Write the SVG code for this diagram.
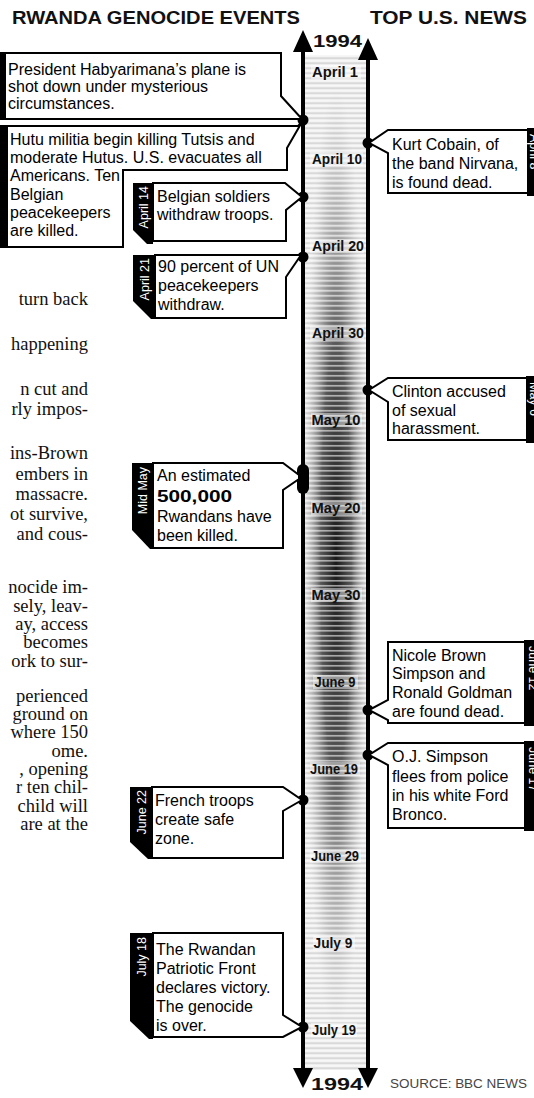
<svg xmlns="http://www.w3.org/2000/svg" width="534" height="1098" viewBox="0 0 534 1098">
<style>
.box{fill:#fff;stroke:#000;stroke-width:2;stroke-linejoin:miter}
.tab{fill:#000}
.t{font-family:"Liberation Sans",Arial,sans-serif;font-size:16px;fill:#000}
.tt{font-family:"Liberation Sans",Arial,sans-serif;font-size:12.5px;fill:#fff}
.date{font-family:"Liberation Sans",Arial,sans-serif;font-size:14px;font-weight:bold;fill:#111;text-anchor:middle}
.news{font-family:"Liberation Serif","Times New Roman",serif;font-size:18.5px;fill:#111;text-anchor:end}
.hd{font-family:"Liberation Sans",Arial,sans-serif;font-size:18px;font-weight:bold;fill:#111}
.yr{font-family:"Liberation Sans",Arial,sans-serif;font-size:17px;font-weight:bold;fill:#111}
.line{stroke:#000;stroke-width:4}
.dot{fill:#000}
</style>
<defs>
<radialGradient id="dark" gradientUnits="userSpaceOnUse" cx="336" cy="560" r="34" gradientTransform="translate(336 560) scale(1 14) translate(-336 -560)">
<stop offset="0" stop-color="#1a1a1a" stop-opacity="1"/>
<stop offset="0.45" stop-color="#444" stop-opacity="0.85"/>
<stop offset="0.8" stop-color="#999" stop-opacity="0.35"/>
<stop offset="1" stop-color="#ccc" stop-opacity="0"/>
</radialGradient>
<pattern id="stripes" patternUnits="userSpaceOnUse" width="10" height="5">
<rect x="0" y="0" width="10" height="1.6" fill="#fff" fill-opacity="0.55"/>
<rect x="0" y="2.6" width="10" height="1" fill="#000" fill-opacity="0.14"/>
</pattern>
</defs>
<rect x="0" y="0" width="534" height="1098" fill="#fff"/>

<g id="header">
<text class="hd" x="12" y="24" textLength="288" lengthAdjust="spacingAndGlyphs">RWANDA GENOCIDE EVENTS</text>
<text class="hd" x="370" y="24" textLength="157" lengthAdjust="spacingAndGlyphs">TOP U.S. NEWS</text>
</g>

<g id="column-text" class="news">
<text x="88" y="305">turn back</text>
<text x="88" y="350">happening</text>
<text x="88" y="395">n cut and</text>
<text x="88" y="415">rly impos-</text>
<text x="88" y="459">ins-Brown</text>
<text x="88" y="480">embers in</text>
<text x="88" y="500">massacre.</text>
<text x="88" y="520">ot survive,</text>
<text x="88" y="540">and cous-</text>
<text x="88" y="593">nocide im-</text>
<text x="88" y="612">sely, leav-</text>
<text x="88" y="630">ay, access</text>
<text x="88" y="648">becomes</text>
<text x="88" y="667">ork to sur-</text>
<text x="88" y="702">perienced</text>
<text x="88" y="720">ground on</text>
<text x="88" y="738">where 150</text>
<text x="88" y="757">ome.</text>
<text x="88" y="775">, opening</text>
<text x="88" y="793">r ten chil-</text>
<text x="88" y="812">child will</text>
<text x="88" y="830">are at the</text>
</g>

<g id="timeline-band">
<rect x="305" y="55" width="61" height="1015" fill="#eeeeee"/>
<rect x="305" y="55" width="61" height="1015" fill="url(#dark)"/>
<rect x="305" y="55" width="61" height="1015" fill="url(#stripes)"/>
<g fill="#fff" fill-opacity="0.45">
<rect x="311" y="65" width="50" height="14"/>
<rect x="310" y="152" width="53" height="14"/>
<rect x="310" y="239" width="54" height="14"/>
<rect x="310" y="326" width="54" height="14"/>
<rect x="311" y="413" width="51" height="14"/>
<rect x="311" y="501" width="51" height="14"/>
<rect x="311" y="588" width="51" height="14"/>
<rect x="313" y="675" width="45" height="14"/>
<rect x="310" y="762" width="50" height="14"/>
<rect x="310" y="849" width="51" height="14"/>
<rect x="313" y="936" width="42" height="14"/>
<rect x="311" y="1023" width="46" height="14"/>
</g>
<text class="date" x="335" y="77" textLength="46" lengthAdjust="spacingAndGlyphs">April 1</text>
<text class="date" x="337" y="164" textLength="50" lengthAdjust="spacingAndGlyphs">April 10</text>
<text class="date" x="338" y="251" textLength="52" lengthAdjust="spacingAndGlyphs">April 20</text>
<text class="date" x="338" y="338" textLength="52" lengthAdjust="spacingAndGlyphs">April 30</text>
<text class="date" x="336" y="425" textLength="49" lengthAdjust="spacingAndGlyphs">May 10</text>
<text class="date" x="336" y="513" textLength="49" lengthAdjust="spacingAndGlyphs">May 20</text>
<text class="date" x="336" y="600" textLength="49" lengthAdjust="spacingAndGlyphs">May 30</text>
<text class="date" x="335" y="687" textLength="41" lengthAdjust="spacingAndGlyphs">June 9</text>
<text class="date" x="334" y="774" textLength="48" lengthAdjust="spacingAndGlyphs">June 19</text>
<text class="date" x="335" y="861" textLength="48" lengthAdjust="spacingAndGlyphs">June 29</text>
<text class="date" x="333" y="948" textLength="39" lengthAdjust="spacingAndGlyphs">July 9</text>
<text class="date" x="334" y="1035" textLength="44" lengthAdjust="spacingAndGlyphs">July 19</text>
</g>

<g id="connectors">
<line class="line" x1="303" y1="48" x2="303" y2="1072"/>
<line class="line" x1="368" y1="56" x2="368" y2="1072"/>
<polygon points="303,30 293,52 313,52" fill="#000"/>
<polygon points="368,38 358,60 378,60" fill="#000"/>
<polygon points="293,1068 313,1068 303,1088" fill="#000"/>
<polygon points="358,1068 378,1068 368,1088" fill="#000"/>
<circle class="dot" cx="303" cy="120" r="5.5"/>
<circle class="dot" cx="303" cy="197" r="5.5"/>
<circle class="dot" cx="303" cy="257" r="5.5"/>
<rect class="dot" x="297" y="464" width="12" height="30" rx="6"/>
<circle class="dot" cx="303" cy="800" r="5.5"/>
<circle class="dot" cx="303" cy="1027" r="5.5"/>
<circle class="dot" cx="368" cy="143" r="5.5"/>
<circle class="dot" cx="368" cy="390" r="5.5"/>
<circle class="dot" cx="368" cy="710" r="5.5"/>
<circle class="dot" cx="368" cy="755" r="5.5"/>
</g>

<g id="year-labels">
<text class="yr" x="313" y="47" textLength="49" lengthAdjust="spacingAndGlyphs">1994</text>
<text class="yr" x="311" y="1090" textLength="52" lengthAdjust="spacingAndGlyphs">1994</text>
<text x="390" y="1088" font-family="Liberation Sans, Arial, sans-serif" font-size="13" fill="#444" textLength="137" lengthAdjust="spacingAndGlyphs">SOURCE: BBC NEWS</text>
</g>

<g id="ev-apr6">
<rect class="tab" x="0" y="52" width="6" height="68"/>
<path class="box" d="M5,53 H281 V96 L302,119 H5 Z"/>
<text class="t" x="8" y="75">President Habyarimana’s plane is</text>
<text class="t" x="8" y="92">shot down under mysterious</text>
<text class="t" x="8" y="109">circumstances.</text>
</g>

<g id="ev-apr7">
<rect class="tab" x="0" y="125" width="8" height="123"/>
<path class="box" d="M7,126 H298 L302,122 L287,148 V170 H123 V247 H7 Z"/>
<text class="t" x="10" y="145">Hutu militia begin killing Tutsis and</text>
<text class="t" x="10" y="163">moderate Hutus. U.S. evacuates all</text>
<text class="t" x="10" y="181">Americans. Ten</text>
<text class="t" x="10" y="200">Belgian</text>
<text class="t" x="10" y="218">peacekeepers</text>
<text class="t" x="10" y="236">are killed.</text>
</g>

<g id="ev-apr14">
<path class="tab" d="M133,183 H153 V244 H147 L133,230 Z"/>
<path class="box" d="M153,183 H285 L302,197 L286,210 V241 H153 Z"/>
<text class="tt" transform="translate(148,186) rotate(-90)" text-anchor="end">April 14</text>
<text class="t" x="157" y="202">Belgian soldiers</text>
<text class="t" x="157" y="220">withdraw troops.</text>
</g>

<g id="ev-apr21">
<path class="tab" d="M133,255 H155 V319 H151 L133,301 Z"/>
<path class="box" d="M155,255 H301 L286,277 V318 H155 Z"/>
<text class="tt" transform="translate(149,258) rotate(-90)" text-anchor="end">April 21</text>
<text class="t" x="158" y="272">90 percent of UN</text>
<text class="t" x="158" y="291">peacekeepers</text>
<text class="t" x="158" y="310">withdraw.</text>
</g>

<g id="ev-midmay">
<path class="tab" d="M132,463 H153 V549 H150 L132,530 Z"/>
<path class="box" d="M153,463 H283 L299,475 L299,479 L283,490 V548 H153 Z"/>
<text class="tt" transform="translate(147,467) rotate(-90)" text-anchor="end">Mid May</text>
<text class="t" x="157" y="481">An estimated</text>
<text class="t" x="157" y="502" font-weight="bold" font-size="19" textLength="75" lengthAdjust="spacingAndGlyphs">500,000</text>
<text class="t" x="157" y="522">Rwandans have</text>
<text class="t" x="157" y="541">been killed.</text>
</g>

<g id="ev-jun22">
<path class="tab" d="M130,787 H152 V859 H148 L130,842 Z"/>
<path class="box" d="M152,787 H283 L302,800 L283,811 V858 H152 Z"/>
<text class="tt" transform="translate(146,790) rotate(-90)" text-anchor="end">June 22</text>
<text class="t" x="155" y="806">French troops</text>
<text class="t" x="155" y="825">create safe</text>
<text class="t" x="155" y="844">zone.</text>
</g>

<g id="ev-jul18">
<path class="tab" d="M130,933 H153 V1039 H149 L130,1021 Z"/>
<path class="box" d="M153,933 H283 V1015 L302,1027 L283,1037 H153 Z"/>
<text class="tt" transform="translate(146,937) rotate(-90)" text-anchor="end">July 18</text>
<text class="t" x="156" y="955">The Rwandan</text>
<text class="t" x="156" y="974">Patriotic Front</text>
<text class="t" x="156" y="993">declares victory.</text>
<text class="t" x="156" y="1012">The genocide</text>
<text class="t" x="156" y="1031">is over.</text>
</g>

<g id="us-cobain">
<rect class="tab" x="527" y="128" width="8" height="68"/>
<path class="box" d="M388,130 H528 V193 H388 V153 L369,143 Z"/>
<text class="tt" transform="translate(530,134) rotate(90)">April 8</text>
<text class="t" x="392" y="150">Kurt Cobain, of</text>
<text class="t" x="392" y="169">the band Nirvana,</text>
<text class="t" x="392" y="188">is found dead.</text>
</g>

<g id="us-clinton">
<rect class="tab" x="526" y="376" width="9" height="67"/>
<path class="box" d="M388,378 H527 V440 H388 V402 L369,390 Z"/>
<text class="tt" transform="translate(530,382) rotate(90)">May 6</text>
<text class="t" x="392" y="397">Clinton accused</text>
<text class="t" x="392" y="416">of sexual</text>
<text class="t" x="392" y="434">harassment.</text>
</g>

<g id="us-nicole">
<rect class="tab" x="524" y="640" width="11" height="86"/>
<path class="box" d="M388,642 H525 V723 H388 V720 L369,710 L388,700 Z"/>
<text class="tt" transform="translate(529,646) rotate(90)">June 12</text>
<text class="t" x="392" y="661">Nicole Brown</text>
<text class="t" x="392" y="679">Simpson and</text>
<text class="t" x="392" y="698">Ronald Goldman</text>
<text class="t" x="392" y="717">are found dead.</text>
</g>

<g id="us-oj">
<rect class="tab" x="524" y="741" width="11" height="90"/>
<path class="box" d="M388,743 H525 V828 H388 V765 L369,755 Z"/>
<text class="tt" transform="translate(529,747) rotate(90)">June 17</text>
<text class="t" x="392" y="762">O.J. Simpson</text>
<text class="t" x="392" y="782">flees from police</text>
<text class="t" x="392" y="801">in his white Ford</text>
<text class="t" x="392" y="820">Bronco.</text>
</g>
</svg>
